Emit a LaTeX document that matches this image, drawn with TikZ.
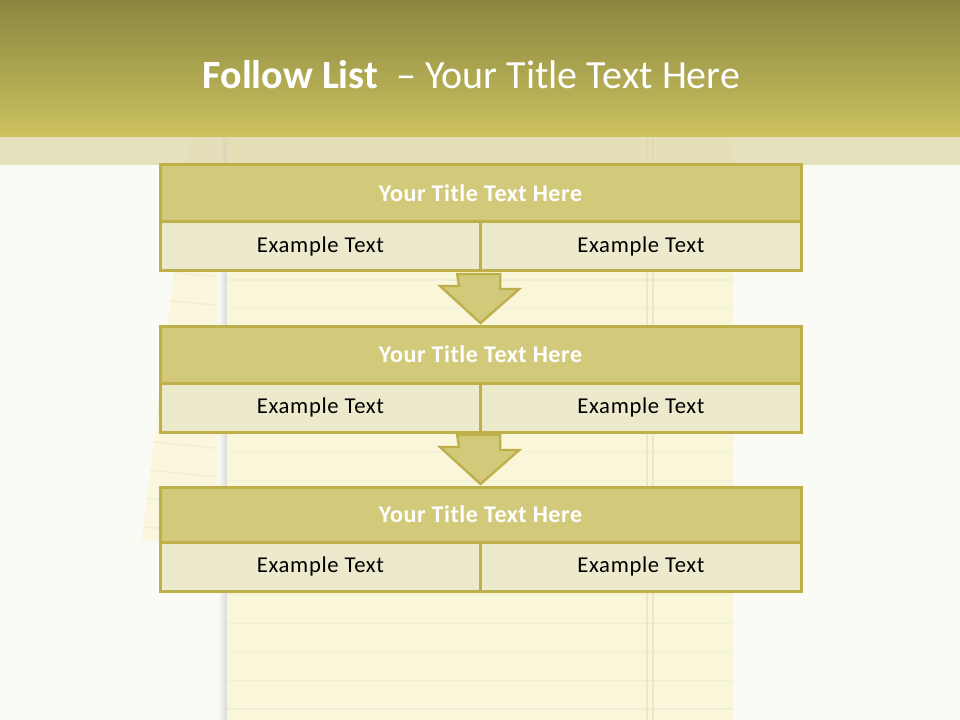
\documentclass[tikz,border=0pt]{standalone}
\usepackage{fontspec}
\setmainfont{Carlito}
\newfontfamily\boxtitlefont[LetterSpace=2.5]{Carlito}
\newfontfamily\boxtextfont[LetterSpace=3]{Carlito}
\usetikzlibrary{calc}
\definecolor{hdrtop}{HTML}{8A8640}
\definecolor{hdrbot}{HTML}{CCC25F}
\definecolor{bgc}{HTML}{FBFBF6}
\definecolor{bandc}{HTML}{DCD6A8}
\definecolor{paperc}{HTML}{FAF6D9}
\definecolor{paperb}{HTML}{FAF7DE}
\definecolor{rulec}{HTML}{EEEDD6}
\definecolor{marginc}{HTML}{EEE6C8}
\definecolor{titlefill}{HTML}{D2CA7A}
\definecolor{subfill}{HTML}{EDE9CD}
\definecolor{borderc}{HTML}{BDB04A}
\tikzset{
  titlecell/.style={draw=borderc, line width=2.25pt, fill=titlefill, inner sep=0pt,
    minimum width=480.75pt, minimum height=42.75pt, text=white,
    font=\boxtitlefont\fontsize{18}{21}\selectfont\bfseries},
  subcell/.style={draw=borderc, line width=2.25pt, fill=subfill, inner sep=0pt,
    minimum width=240.4pt, minimum height=36.75pt, text=black,
    font=\boxtextfont\fontsize{17}{20}\selectfont},
  blockarrow/.style={draw=borderc, line width=1.8pt, fill=titlefill, line join=miter},
  ruleline/.style={draw=rulec, line width=1pt}
}
\begin{document}
\begin{tikzpicture}[x=0.75pt,y=-0.75pt]
\useasboundingbox (0,0) rectangle (960,720);
\fill[bgc] (0,0) rectangle (960,720);
% tilted sheet
\begin{scope}
\clip (190,137) -- (227,137) -- (227,545) -- (142,540) -- cycle;
\fill[paperb] (100,120) rectangle (240,560);
\foreach \k in {0,...,10} {
  \draw[ruleline] (130,268+28.6*\k) -- (240,279+28.6*\k);
}
\end{scope}
% notepad shadow and paper
\shade[left color=bgc, right color=black!15] (218,137) rectangle (227,720);
\fill[paperc] (227,137) rectangle (733,720);
\foreach \k in {0,...,15} {
  \draw[ruleline] (227,280+28.6*\k) -- (733,280+28.6*\k);
}
\draw[marginc, line width=1pt] (647,137) -- (647,720);
\draw[marginc, line width=1pt] (653,137) -- (653,720);
% band
\fill[bandc, opacity=0.7] (0,137) rectangle (960,165);
% header
\shade[top color=hdrtop, bottom color=hdrbot] (0,0) rectangle (960,137);
\node[text=white, font=\fontsize{30}{36}\selectfont] (title) at (471.5,75)
  {\textbf{Follow List}~ – Your Title Text Here};
% box 1
\node[titlecell] (t1) at (480.5,193.5) {Your Title Text Here};
\node[subcell] (l1) at (320.5,246.5) {Example Text};
\node[subcell] (r1) at (641,246.5) {Example Text};
% box 2
\node[titlecell] (t2) at (480.5,354.5) {Your Title Text Here};
\node[subcell] (l2) at (320.5,407.5) {Example Text};
\node[subcell] (r2) at (641,407.5) {Example Text};
% box 3
\node[titlecell, minimum height=41.25pt] (t3) at (480.5,514.5) {Your Title Text Here};
\node[subcell] (l3) at (320.5,566.5) {Example Text};
\node[subcell] (r3) at (641,566.5) {Example Text};
% arrows
\draw[blockarrow] ($(r1.south west)+(-22,1.5)$) -- ++(43,0) -- ++(0,15) -- ++(19,0)
  -- ($(t2.north)+(0,-1.5)$) -- ++(-40.5,-37) -- ++(19,0) -- cycle;
\draw[blockarrow] ($(r2.south west)+(-22,1.5)$) -- ++(43,0) -- ++(0,15) -- ++(19,0)
  -- ($(t3.north)+(0,-1.5)$) -- ++(-40.5,-37) -- ++(19,0) -- cycle;
\end{tikzpicture}
\end{document}
